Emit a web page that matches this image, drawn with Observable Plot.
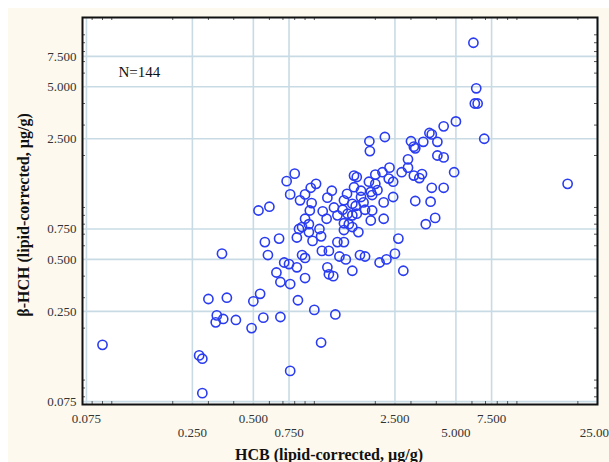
<!DOCTYPE html>
<html>
<head>
<meta charset="utf-8">
<script src="https://cdn.jsdelivr.net/npm/d3@7"></script>
<script src="https://cdn.jsdelivr.net/npm/@observablehq/plot@0.6"></script>
<style>
  html, body { margin: 0; padding: 0; background: #ffffff; }
  #wrap { position: relative; width: 609px; height: 462px; overflow: hidden; }
  #bg { position: absolute; left: 8px; top: 8px; right: 0; bottom: 0; background: #fdf9ee; }
  #chart { position: absolute; left: 0; top: 0; }
</style>
</head>
<body>
<div id="wrap"><div id="bg"></div><div id="chart"></div></div>
<script>
// HCB (lipid-corrected, µg/g)
const hcb = [
  6.1, 6.3, 6.2, 6.4, 5.0, 6.9, 4.35, 3.7, 3.8, 3.45,
  3.0, 3.1, 3.15, 4.05, 1.87, 1.88, 2.23, 2.9, 4.05, 4.35,
  17.8, 2.9, 2.7, 3.1, 3.3, 3.4, 4.9, 3.8, 4.35, 3.15,
  3.75, 3.55, 3.95, 2.6, 2.5, 2.27, 2.1, 2.75, 1.68, 1.78,
  1.54, 1.65, 2.2, 2.45, 2.2, 1.9, 1.57, 1.62, 2.0, 2.17,
  2.33, 2.45, 1.86, 2.0, 1.57, 1.70, 1.9, 2.05, 1.93, 1.54,
  1.75, 1.78, 1.93, 1.54, 1.54, 1.4, 1.6, 1.38, 1.46, 1.62,
  1.40, 1.48, 1.40, 0.8, 0.73, 0.76, 0.53, 0.6, 1.02, 0.96,
  0.9, 1.16, 0.97, 0.95, 0.9, 0.94, 1.15, 0.84, 0.87, 0.94,
  0.82, 0.98, 1.06, 1.08, 0.57, 0.67, 0.59, 1.09, 1.18, 1.30,
  1.40, 0.87, 0.9, 1.33, 1.43, 0.71, 0.75, 0.82, 0.65, 0.68,
  0.76, 0.9, 1.16, 1.18, 1.24, 0.54, 0.50, 0.83, 0.35, 0.30,
  0.37, 0.33, 0.326, 0.355, 0.41, 0.49, 0.56, 0.68, 1.0, 1.27,
  1.08, 0.76, 0.27, 0.28, 0.28, 0.09, 1.7, 1.45, 1.25, 1.3,
  2.35, 1.1, 1.22, 0.85
];
// β-HCH (lipid-corrected, µg/g)
const bhch = [
  9.0, 4.9, 4.0, 4.0, 3.15, 2.5, 2.95, 2.7, 2.65, 2.4,
  2.42, 2.25, 2.2, 2.4, 2.42, 2.12, 2.56, 1.9, 2.0, 1.95,
  1.37, 1.7, 1.6, 1.53, 1.48, 1.56, 1.6, 1.3, 1.3, 1.09,
  1.08, 0.8, 0.87, 0.66, 0.54, 0.5, 0.48, 0.43, 0.53, 0.52,
  0.43, 0.72, 0.86, 1.15, 1.07, 0.84, 1.53, 1.5, 1.55, 1.6,
  1.47, 1.41, 1.41, 1.37, 1.31, 1.25, 1.23, 1.26, 1.18, 1.05,
  1.07, 0.97, 0.96, 0.9, 0.77, 1.1, 1.02, 0.97, 0.92, 0.92,
  0.81, 0.80, 0.74, 1.57, 1.42, 1.19, 0.96, 1.01, 1.37, 1.3,
  1.19, 1.14, 1.06, 0.96, 0.86, 0.8, 0.86, 0.75, 0.77, 0.72,
  0.67, 0.64, 0.75, 0.68, 0.63, 0.66, 0.53, 0.56, 0.56, 0.63,
  0.63, 0.53, 0.51, 0.52, 0.5, 0.48, 0.47, 0.45, 0.42, 0.37,
  0.36, 0.39, 0.45, 0.41, 0.40, 0.316, 0.286, 0.29, 0.54, 0.295,
  0.30, 0.237, 0.216, 0.226, 0.223, 0.2, 0.23, 0.232, 0.255, 0.24,
  0.165, 0.113, 0.139, 0.133, 0.084, 0.16, 1.15, 1.2, 1.0, 0.9,
  1.7, 0.95, 1.25, 1.1
];
const xTicksRow1 = [0.075, 0.5, 2.5, 7.5];
const xTicksRow2 = [0.25, 0.75, 5, 25];
const xTicks = [0.075, 0.25, 0.5, 0.75, 2.5, 5, 7.5, 25];
const yTicks = [0.075, 0.25, 0.5, 0.75, 2.5, 5, 7.5];
const xMinor = [0.08, 0.09, 0.1, 0.2, 0.3, 0.4, 0.6, 0.7, 0.8, 0.9, 1, 2, 3, 4, 6, 7, 8, 9, 10, 20];
const yMinor = [0.08, 0.09, 0.1, 0.2, 0.3, 0.4, 0.6, 0.7, 0.8, 0.9, 1, 2, 3, 4, 6, 7, 8, 9, 10];
const xLabel = "HCB (lipid-corrected, µg/g)";
const yLabel = "β-HCH (lipid-corrected, µg/g)";
const nText = "N=144";

const data = hcb.map((x, i) => ({x, y: bhch[i]}));
const fmt = d3.format(".3f");
const gridColor = "#c8dbe5";
const tickColor = "#333";

const chart = Plot.plot({
  width: 609,
  height: 462,
  marginLeft: 82,
  marginRight: 12,
  marginTop: 17,
  marginBottom: 58,
  style: {background: "transparent", fontFamily: "'Liberation Serif', 'DejaVu Serif', serif", fontSize: "13px", color: "#333"},
  x: {type: "log", domain: [0.0717, 25], range: [82, 597], nice: false, axis: null},
  y: {type: "log", domain: [0.0722, 12.6], nice: false, axis: null},
  marks: [
    Plot.frame({fill: "white", stroke: "none"}),
    Plot.ruleX(xTicks, {x: d => d, stroke: gridColor, strokeWidth: 1.6}),
    Plot.ruleY(yTicks, {y: d => d, stroke: gridColor, strokeWidth: 1.6}),
    Plot.tickX(xMinor, {x: d => d, insetBottom: 384, stroke: "#555", strokeWidth: 1}),
    Plot.tickX(xMinor, {x: d => d, insetTop: 384, stroke: "#555", strokeWidth: 1}),
    Plot.tickY(yMinor, {y: d => d, insetRight: 512, stroke: "#555", strokeWidth: 1}),
    Plot.tickY(yMinor, {y: d => d, insetLeft: 512, stroke: "#555", strokeWidth: 1}),
    Plot.dot(data, {x: "x", y: "y", r: 4.6, stroke: "#2a3cf0", strokeWidth: 1.6, fill: "none"}),
    Plot.frame({stroke: "#111", strokeWidth: 2}),
    Plot.text(xTicksRow1, {x: d => d, frameAnchor: "bottom", text: d => fmt(d), dy: 14, lineAnchor: "middle", textAnchor: "middle", fill: tickColor, fontSize: 13}),
    Plot.text(xTicksRow2, {x: d => d, frameAnchor: "bottom", text: d => fmt(d), dy: 28.5, lineAnchor: "middle", textAnchor: "middle", fill: tickColor, fontSize: 13}),
    Plot.text(yTicks, {y: d => d, frameAnchor: "left", text: d => fmt(d), dx: -6, lineAnchor: "middle", textAnchor: "end", fill: tickColor, fontSize: 13}),
    Plot.text([xLabel], {frameAnchor: "bottom", text: d => d, dx: -11, dy: 50, lineAnchor: "middle", textAnchor: "middle", fontSize: 16, fontWeight: "bold", fill: "#111"}),
    Plot.text([yLabel], {frameAnchor: "left", text: d => d, rotate: -90, dx: -59, dy: 4, lineAnchor: "middle", textAnchor: "middle", fontSize: 16, fontWeight: "bold", fill: "#111"}),
    Plot.text([nText], {frameAnchor: "top-left", text: d => d, dx: 36, dy: 55, lineAnchor: "middle", textAnchor: "start", fontSize: 15, fill: "#111"})
  ]
});
document.getElementById("chart").appendChild(chart);
</script>
</body>
</html>
